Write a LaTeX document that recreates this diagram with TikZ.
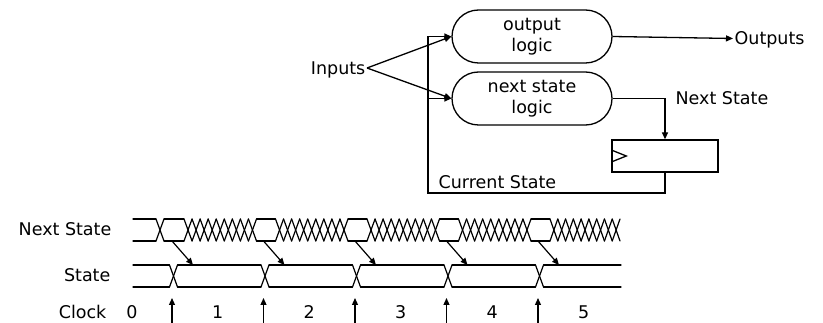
\documentclass[tikz,border=0pt]{standalone}
\usepackage{fontspec}
\setmainfont{DejaVu Sans}
\usetikzlibrary{arrows.meta,shapes.misc}
\newcommand\wvflat[4]{\draw[wave] ({#1},{#3}) -- ({#2},{#3}); \draw[wave] ({#1},{#4}) -- ({#2},{#4});}
\newcommand\wvcross[4]{\draw[wave] ({#1},{#3}) -- ({#2},{#4}); \draw[wave] ({#1},{#4}) -- ({#2},{#3});}
\newcommand\wvhatch[5]{%
  \pgfmathsetmacro\wvs{#1}%
  \pgfmathsetmacro\wvw{((#2)-(#1))/#3}%
  \foreach \i in {1,...,#3}{\wvcross{\wvs+(\i-1)*\wvw}{\wvs+\i*\wvw}{#4}{#5}}}
\begin{document}
\begin{tikzpicture}[x=1pt,y=-1pt, line width=1.3pt,
  font=\fontsize{17.5}{21}\selectfont,
  >={Triangle[length=7pt,width=6pt]},
  logic/.style={draw, rounded rectangle, minimum width=160pt, minimum height=53pt, align=center, inner sep=0pt},
  lbl/.style={inner sep=1pt, text height=12.8pt, text depth=0pt},
  wave/.style={line cap=round, line join=round}]
\useasboundingbox (0,0) rectangle (823,323);
% ---- top block diagram ----
\node[logic] (ol) at (532,36.5) {output\\logic};
\node[logic] (nsl) at (532,98.5) {next state\\logic};
\node[draw, minimum width=106pt, minimum height=32pt, inner sep=0pt] (reg) at (665,156) {};
\draw ([shift={(0,-6)}]reg.west) -- ([shift={(15,0)}]reg.west) -- ([shift={(0,6)}]reg.west);
\node[lbl, anchor=east] (in) at (367,68) {Inputs};
\node[lbl, anchor=west] (out) at (733,38.5) {Outputs};
\node[lbl, anchor=west] (nslbl) at (674,98.5) {Next State};
\node[lbl, anchor=west] (cs) at (437,182.5) {Current State};
\draw[->] (in.east) -- (ol.west);
\draw[->] (in.east) -- (nsl.west);
\draw[->] (ol.east) -- (out.west);
\draw[->] (nsl.east) -| (reg.north);
\coordinate (fbb) at (428,193);
\draw[->] (reg.south) |- (fbb) |- (ol.west);
\draw[->] (fbb |- nsl.west) -- (nsl.west);
% ---- timing diagram labels ----
\node[lbl, anchor=east] (lns) at (113,229.5) {Next State};
\node[lbl, anchor=east] (lst) at (112,275.5) {State};
\node[lbl, anchor=east] (lck) at (108,312.5) {Clock};
\node[lbl] (c0) at (132,312.5) {0};
\foreach \k in {1,...,5}{\node[lbl] (c\k) at ({172+91.5*(\k-1)+45.75},312.5) {\k};}
% ---- next state waveform ----
\begin{scope}[line width=1.2pt]
\wvflat{133}{156}{219}{241}
\wvcross{156}{164}{219}{241}
\wvflat{164}{184}{219}{241}
\wvhatch{184}{256.5}{9}{219}{241}
\foreach \k in {1,...,4}{
  \pgfmathsetmacro\tk{172+91.5*\k}
  \pgfmathsetmacro\te{\k<4 ? \tk+84.5 : 620}
  \wvflat{\tk-7}{\tk+12}{219}{241}
  \wvhatch{\tk+12}{\te}{9}{219}{241}
}
% ---- state waveform ----
\wvflat{133}{169.5}{265}{287}
\foreach \k in {0,...,4}{
  \pgfmathsetmacro\tk{172+91.5*\k}
  \pgfmathsetmacro\te{\k<4 ? \tk+89 : 621}
  \wvcross{\tk-2.5}{\tk+5.5}{265}{287}
  \wvflat{\tk+5.5}{\te}{265}{287}
}
% ---- arrows ----
\foreach \k in {0,...,4}{
  \pgfmathsetmacro\tk{172+91.5*\k}
  \coordinate (na\k) at (\tk,241);
  \coordinate (sa\k) at ({\tk+21},265);
  \draw[->] (na\k) -- (sa\k);
  \coordinate (cb\k) at (\tk,323);
  \coordinate (ct\k) at (\tk,298);
  \draw[->] (cb\k) -- (ct\k);
}
\end{scope}
\end{tikzpicture}
\end{document}
